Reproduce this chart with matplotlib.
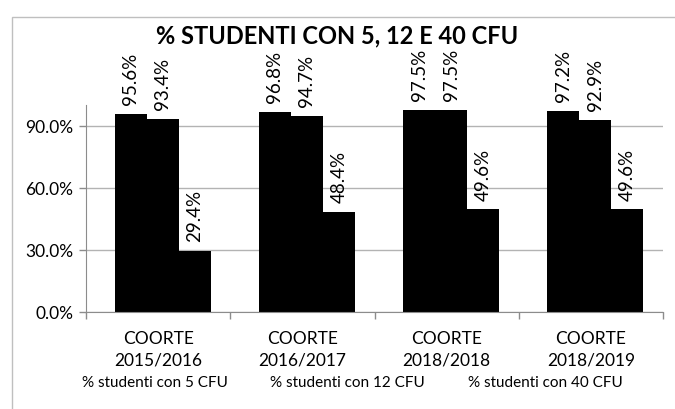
import numpy as np
import matplotlib.pyplot as plt
from matplotlib.patches import Rectangle
from matplotlib.ticker import FuncFormatter

# values
cohorts = ["COORTE\n2015/2016", "COORTE\n2016/2017", "COORTE\n2018/2018", "COORTE\n2018/2019"]
series_names = ["% studenti con 5 CFU", "% studenti con 12 CFU", "% studenti con 40 CFU"]
cfu_5 = [95.6, 96.8, 97.5, 97.2]
cfu_12 = [93.4, 94.7, 97.5, 92.9]
cfu_40 = [29.4, 48.4, 49.6, 49.6]

plt.rcParams["font.family"] = ["Lato", "DejaVu Sans"]

fig = plt.figure(figsize=(6.75, 4.1), dpi=100)
ax = fig.add_axes([86 / 675, 1 - 313 / 410, (663 - 86) / 675, (313 - 106) / 410])

# grey frame of the chart area, cut off at the right and bottom like the reference
fig.patches.append(Rectangle((12 / 675, -0.1), 1.2, 1 - 18 / 410 + 0.1,
                             transform=fig.transFigure, fill=False,
                             edgecolor="#bfbfbf", linewidth=1))

x = np.arange(len(cohorts))
width = 0.222
shift = 0.031
for i, (name, vals) in enumerate(zip(series_names, [cfu_5, cfu_12, cfu_40])):
    pos = x + shift + (i - 1) * width
    ax.bar(pos, vals, width, color="black", label=name, zorder=3)
    for px, v in zip(pos, vals):
        ax.annotate(f"{v:.1f}%", (px, v), xytext=(0, 7), textcoords="offset points",
                    rotation=90, ha="center", va="bottom", fontsize=13.5)

ax.set_xlim(-0.5, len(cohorts) - 0.5)
ax.set_ylim(0, 100)
ax.set_yticks([0, 30, 60, 90])
ax.yaxis.set_major_formatter(FuncFormatter(lambda v, p: f"{v:.1f}%"))
ax.grid(axis="y", color="#b3b3b3", linewidth=1, zorder=0)

ax.set_xticks(x)
ax.set_xticklabels(cohorts, fontsize=12.5, linespacing=1.45)
ax.set_xticks(np.arange(len(cohorts) + 1) - 0.5, minor=True)
ax.tick_params(axis="x", which="major", length=0, pad=13)
ax.tick_params(axis="x", which="minor", length=5, color="#8c8c8c", width=1)
ax.tick_params(axis="y", length=5, color="#8c8c8c", width=1, labelsize=12.5, pad=4)

for side in ["top", "right"]:
    ax.spines[side].set_visible(False)
for side in ["left", "bottom"]:
    ax.spines[side].set_color("#8c8c8c")
    ax.spines[side].set_zorder(4)

fig.text(0.5, 1 - 36 / 410, "% STUDENTI CON 5, 12 E 40 CFU", ha="center", va="center",
         fontsize=17, fontweight="bold")

ax.legend(loc="center", bbox_to_anchor=(352 / 675, 1 - 383 / 410), bbox_transform=fig.transFigure,
          ncol=3, frameon=False, handlelength=0, handletextpad=0, columnspacing=2.8,
          fontsize=11)

fig.savefig("out.png", dpi=100)
